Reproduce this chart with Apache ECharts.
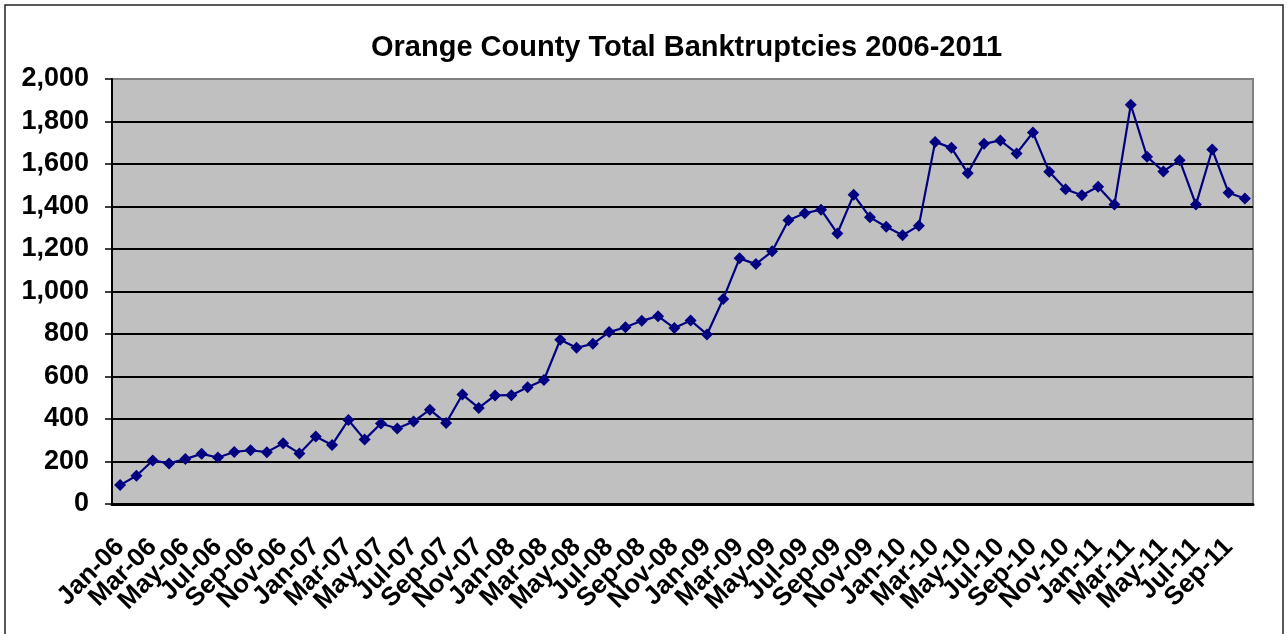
<!DOCTYPE html>
<html>
<head>
<meta charset="utf-8">
<script src="https://cdn.jsdelivr.net/npm/echarts@6/dist/echarts.min.js"></script>
<style>
	html, body { margin: 0; padding: 0; background: #fff; }
	#chart { width: 1287px; height: 634px; }
</style>
</head>
<body>
<div id="chart"></div>
<script>
const months = ['Jan', 'Feb', 'Mar', 'Apr', 'May', 'Jun', 'Jul', 'Aug', 'Sep', 'Oct', 'Nov', 'Dec']
const years = ['06', '07', '08', '09', '10', '11']

// monthly totals, Jan-06 .. Oct-11
const bankruptcies = [
	89, 133, 205, 191, 212, 236, 219, 245, 253, 244, 286, 238,
	318, 278, 395, 303, 379, 355, 388, 444, 381, 515, 452, 511,
	512, 549, 584, 773, 735, 754, 809, 832, 862, 884, 828, 864,
	798, 965, 1156, 1129, 1189, 1335, 1368, 1385, 1273, 1455, 1349, 1305,
	1265, 1310, 1704, 1676, 1557, 1695, 1711, 1650, 1748, 1563, 1481, 1453,
	1493, 1409, 1879, 1634, 1565, 1618, 1409, 1668, 1465, 1438,
]

const categories = []
years.forEach((y) => months.forEach((m) => categories.push(`${m}-${y}`)))
categories.length = bankruptcies.length

const font = 'Liberation Sans, Arial, sans-serif'

const myChart = echarts.init(document.getElementById('chart'), null, { renderer: 'canvas' })

let option = {
	animation: false,
	title: {
		text: 'Orange County Total Banktruptcies 2006-2011',
		left: 366,
		top: 28,
		textStyle: { fontFamily: font, fontSize: 29, fontWeight: 'bold', color: '#000' },
	},
	graphic: [
		{
			type: 'rect',
			shape: { x: 5, y: 5, width: 1278, height: 660 },
			style: { fill: 'none', stroke: '#222', lineWidth: 1.5 },
			silent: true,
		},
	],
	grid: {
		left: 112,
		right: 34,
		top: 79,
		bottom: 130,
		show: true,
		backgroundColor: '#C0C0C0',
		borderColor: '#808080',
		borderWidth: 2,
	},
	xAxis: {
		type: 'category',
		boundaryGap: true,
		data: categories,
		axisLine: { lineStyle: { color: '#000', width: 3 } },
		axisTick: { interval: 1, length: 7, lineStyle: { color: '#000', width: 1.5 } },
		axisLabel: {
			// every label is laid out, odd months are left blank (like the source's every-2nd label)
			interval: 0,
			formatter: (v, i) => (i % 2 === 0 ? v : ''),
			rotate: 45,
			margin: 39,
			fontFamily: font,
			fontSize: 26,
			fontWeight: 'bold',
			color: '#000',
		},
	},
	yAxis: {
		type: 'value',
		min: 0,
		max: 2000,
		interval: 200,
		axisLine: { show: true, lineStyle: { color: '#000', width: 2 } },
		axisTick: { show: true, length: 7, lineStyle: { color: '#000', width: 1.5 } },
		axisLabel: {
			margin: 23,
			fontFamily: font,
			fontSize: 27,
			fontWeight: 'bold',
			color: '#000',
			formatter: (v) => v.toLocaleString('en-US'),
		},
		splitLine: {
			lineStyle: {
				color: ['#000', '#000', '#000', '#000', '#000', '#000', '#000', '#000', '#000', '#000', '#808080'],
				width: 2,
			},
		},
	},
	series: [
		{
			name: 'Total Bankruptcies',
			type: 'line',
			data: bankruptcies,
			symbol: 'diamond',
			symbolSize: 12,
			showAllSymbol: true,
			lineStyle: { color: '#000080', width: 2.2 },
			itemStyle: { color: '#000080' },
		},
	],
}
myChart.setOption(option)

window.addEventListener('resize', () => {
	myChart.resize()
})
</script>
</body>
</html>
